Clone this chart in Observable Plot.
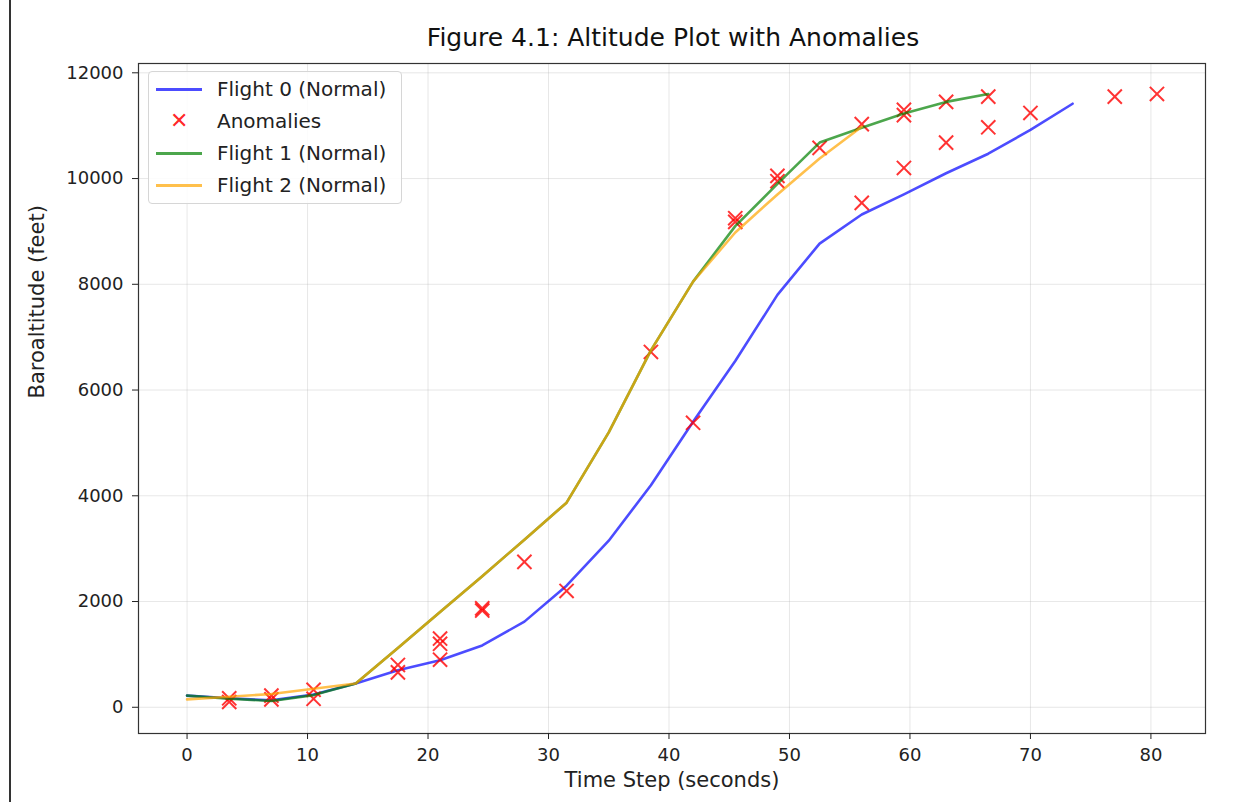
<!DOCTYPE html>
<html>
<head>
<meta charset="utf-8">
<script src="https://cdn.jsdelivr.net/npm/d3@7"></script>
<script src="https://cdn.jsdelivr.net/npm/@observablehq/plot@0.6"></script>
<style>
  html, body { margin: 0; padding: 0; background: #fff; }
  #wrap { position: relative; width: 1238px; height: 802px; overflow: hidden; font-family: "DejaVu Sans", sans-serif; }
  #leftline { position: absolute; left: 9px; top: 0; width: 2px; height: 802px; background: #333; }
  #title { position: absolute; left: 0; width: 1346px; top: 25px; line-height: 25px; text-align: center; font-size: 25px; color: #111; }
  #legend { position: absolute; left: 148px; top: 71px; width: 252px; height: 131px; border: 1px solid #d6d6d6; border-radius: 4px; background: rgba(255,255,255,0.85); font-size: 20px; color: #222; }
  .row { position: absolute; left: 0; height: 24px; line-height: 24px; }
  .sw { position: absolute; left: 7px; top: 11px; width: 46px; height: 3px; }
  .lab { position: absolute; left: 68px; top: 0; white-space: nowrap; }
  .xm { position: absolute; left: 21px; top: 0; color: rgba(255,0,0,0.85); font-size: 22px; }
</style>
</head>
<body>
<div id="wrap">
  <div id="leftline"></div>
  <div id="chart"></div>
  <div id="title">Figure 4.1: Altitude Plot with Anomalies</div>
  <div id="legend"></div>
</div>
<script>
// Flight 0 (Normal)
const t0 = [0,3.5,7,10.5,14,17.5,21,24.5,28,31.5,35,38.5,42,45.5,49,52.5,56,59.5,63,66.5,70,73.5];
const f0 = [220,170,130,240,450,700,890,1170,1620,2300,3150,4200,5400,6550,7800,8770,9320,9700,10100,10470,10920,11415];
// Flight 1 (Normal)
const t1 = [0,3.5,7,10.5,14,17.5,21,24.5,28,31.5,35,38.5,42,45.5,49,52.5,56,59.5,63,66.5];
const f1 = [220,160,120,230,450,1120,1800,2480,3170,3870,5200,6750,8050,9100,9900,10680,10960,11230,11450,11600];
// Flight 2 (Normal)
const t2 = [0,3.5,7,10.5,14,17.5,21,24.5,28,31.5,35,38.5,42,45.5,49,52.5,56];
const f2 = [150,200,250,350,450,1120,1800,2480,3170,3870,5200,6750,8050,8980,9700,10380,10980];
// Anomalies
const anomT = [3.5,3.5,7,7,10.5,10.5,17.5,17.5,21,21,21,24.5,24.5,28,31.5,38.5,42,45.5,45.5,49,49,52.5,56,56,59.5,59.5,59.5,63,63,66.5,66.5,70,77,80.5];
const anomY = [100,170,150,220,330,160,800,660,1300,1200,900,1870,1830,2750,2200,6720,5380,9250,9180,10050,9950,10580,11030,9540,11300,11200,10200,11450,10680,11550,10970,11240,11550,11600];
// Axis ticks
const xTicks = [0,10,20,30,40,50,60,70,80];
const yTicks = [0,2000,4000,6000,8000,10000,12000];

const series = [
  {name: "Flight 0 (Normal)", t: t0, y: f0, color: "rgba(0,0,255,0.7)"},
  {name: "Flight 1 (Normal)", t: t1, y: f1, color: "rgba(0,128,0,0.7)"},
  {name: "Flight 2 (Normal)", t: t2, y: f2, color: "rgba(255,165,0,0.7)"}
];
const lineData = s => s.t.map((t, i) => ({t, y: s.y[i]}));
const anomalies = anomT.map((t, i) => ({t, y: anomY[i]}));

const chart = Plot.plot({
  width: 1238,
  height: 802,
  marginLeft: 138,
  marginRight: 33,
  marginTop: 63,
  marginBottom: 69,
  style: {fontFamily: "DejaVu Sans, sans-serif", fontSize: "18px", color: "#222", background: "white"},
  x: {domain: [-4.03, 84.53], label: null},
  y: {domain: [-496, 12176], label: null},
  marks: [
    Plot.gridX(xTicks, {stroke: "#b0b0b0", strokeOpacity: 0.3, strokeWidth: 1}),
    Plot.gridY(yTicks, {stroke: "#b0b0b0", strokeOpacity: 0.3, strokeWidth: 1}),
    Plot.line(lineData(series[0]), {x: "t", y: "y", stroke: series[0].color, strokeWidth: 2.6}),
    Plot.dot(anomalies, {x: "t", y: "y", symbol: "times", r: 6.5, stroke: "rgba(255,0,0,0.8)", strokeWidth: 2}),
    Plot.line(lineData(series[1]), {x: "t", y: "y", stroke: series[1].color, strokeWidth: 2.6}),
    Plot.line(lineData(series[2]), {x: "t", y: "y", stroke: series[2].color, strokeWidth: 2.6}),
    Plot.frame({stroke: "#333", strokeWidth: 1.2}),
    Plot.axisX({ticks: xTicks, tickSize: 6, tickPadding: 9, fontSize: 18, label: null}),
    Plot.axisY({ticks: yTicks, tickSize: 6, tickPadding: 9, fontSize: 18, label: null, tickFormat: d => String(d)}),
    Plot.text(["Time Step (seconds)"], {frameAnchor: "bottom", dy: 53, fontSize: 21}),
    Plot.text(["Baroaltitude (feet)"], {frameAnchor: "left", dx: -101, rotate: -90, fontSize: 21})
  ]
});
document.getElementById("chart").appendChild(chart);

// legend
const leg = document.getElementById("legend");
const entries = [
  {name: series[0].name, color: series[0].color},
  {name: "Anomalies", marker: true},
  {name: series[1].name, color: series[1].color},
  {name: series[2].name, color: series[2].color}
];
entries.forEach((e, i) => {
  const row = document.createElement("div");
  row.className = "row";
  row.style.top = (5 + i * 32) + "px";
  row.style.width = "250px";
  if (e.marker) {
    const m = document.createElement("div");
    m.className = "xm";
    m.textContent = "✕";
    row.appendChild(m);
  } else {
    const sw = document.createElement("div");
    sw.className = "sw";
    sw.style.background = e.color;
    row.appendChild(sw);
  }
  const lab = document.createElement("div");
  lab.className = "lab";
  lab.textContent = e.name;
  row.appendChild(lab);
  leg.appendChild(row);
});
</script>
</body>
</html>
